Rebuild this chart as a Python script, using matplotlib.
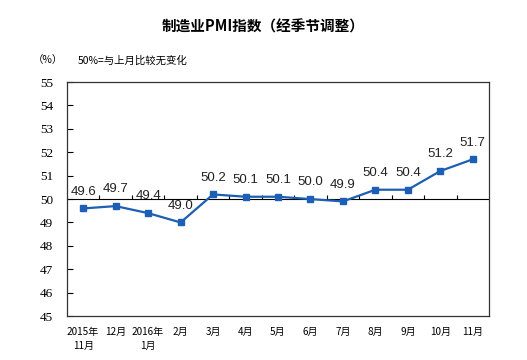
import numpy as np
import matplotlib.pyplot as plt

# 数据
months = ['2015年\n11月', '12月', '2016年\n1月', '2月', '3月', '4月', '5月',
          '6月', '7月', '8月', '9月', '10月', '11月']
pmi = [49.6, 49.7, 49.4, 49.0, 50.2, 50.1, 50.1, 50.0, 49.9, 50.4, 50.4, 51.2, 51.7]
yticks = [45, 46, 47, 48, 49, 50, 51, 52, 53, 54, 55]

cjk = ['Noto Sans CJK SC', 'DejaVu Sans']
blue = '#1c5fb4'

fig = plt.figure(figsize=(5.27, 3.6), dpi=100)
ax = fig.add_axes([0.127, 0.122, 0.801, 0.650])

x = np.arange(len(pmi))
ax.plot(x, pmi, color=blue, lw=1.6, marker='s', ms=3.8, zorder=3)

# 50线
ax.axhline(50, color='black', lw=0.8, zorder=2)
ax.vlines(x[:-1] + 0.5, 50, 50.17, color='black', lw=0.8, zorder=2)

for xi, v in zip(x, pmi):
    ax.annotate('%.1f' % v, (xi, v), xytext=(0, 12), textcoords='offset points',
                ha='center', va='center', fontsize=9.5, family='Liberation Sans',
                color='#222222')

ax.set_xlim(-0.5, len(pmi) - 0.5)
ax.set_ylim(45, 55)
ax.set_yticks(yticks)
ax.set_yticklabels([str(t) for t in yticks], family='Liberation Serif', fontsize=9.5)
ax.tick_params(axis='y', direction='in', length=4, width=0.8, pad=10)
ax.set_xticks(x)
ax.set_xticklabels(months, family=cjk, fontsize=7.2, linespacing=1.45, va='top')
ax.tick_params(axis='x', length=0, pad=8)
for s in ax.spines.values():
    s.set_color('#333333')
    s.set_linewidth(0.9)

fig.text(0.5, 0.925, '制造业PMI指数（经季节调整）', ha='center', va='center',
         fontsize=10.5, family=cjk, fontweight='bold')
fig.text(0.062, 0.833, '（%）', ha='left', va='center', fontsize=7.5, family=cjk)
fig.text(0.148, 0.833, '50%=与上月比较无变化', ha='left', va='center', fontsize=7.5, family=cjk)

fig.savefig('out.png', dpi=100)
